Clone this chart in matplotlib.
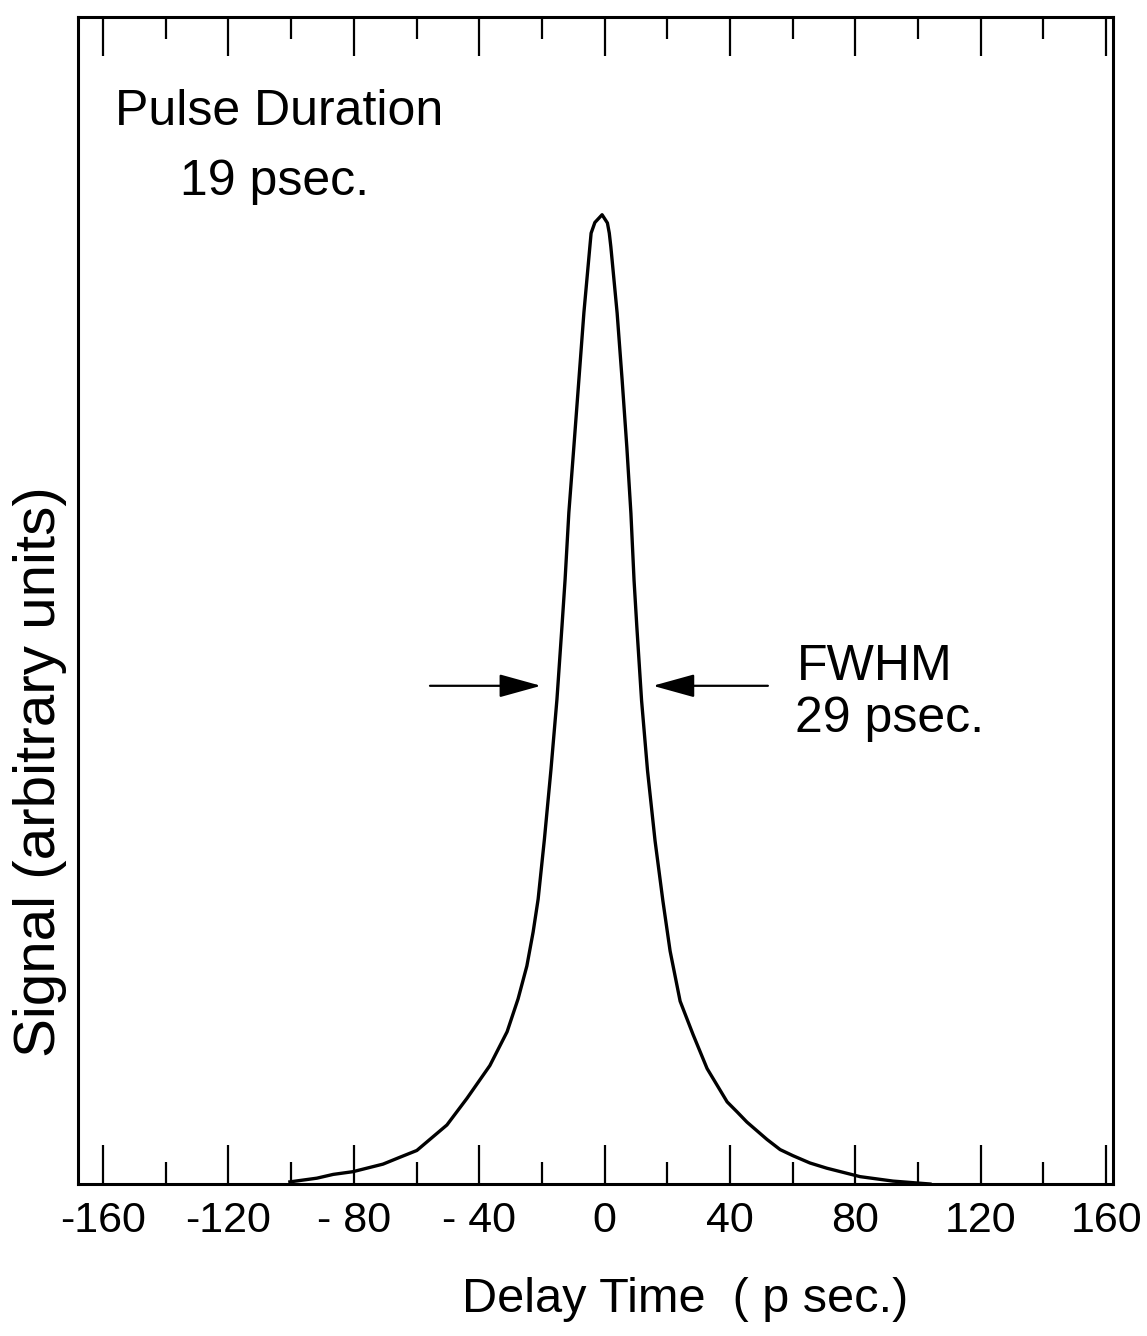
import matplotlib
matplotlib.use('Agg')
import matplotlib.pyplot as plt

plt.rcParams['font.family'] = ['Liberation Sans', 'DejaVu Sans']

# values (signal normalised to the peak)
delay = [-100.4, -91.8, -86.6, -80.3, -70.7, -65.3, -59.9, -50.3, -43.9,
         -36.6, -31.1, -27.6, -24.8, -22.8, -21.2, -19.2, -17.1, -15.2, -13.6,
         -12.6, -11.4, -9.8, -8.2, -6.6, -4.7, -4.3, -3.1, -0.8,
         0.9, 1.5, 2.0, 4.0, 5.6, 7.1, 8.4, 9.4, 10.3, 11.8,
         13.7, 16.1, 18.6, 20.9, 24.1, 28.2, 32.7, 39.1, 42.3,
         45.4, 51.8, 56.0, 60.1, 65.5, 70.9, 81.5, 92.0, 103.8]
signal = [0.0022, 0.0060, 0.0099, 0.0127, 0.0205, 0.0276, 0.0346, 0.0609, 0.0884,
          0.1222, 0.1571, 0.1910, 0.2249, 0.2599, 0.2939, 0.3557, 0.4279, 0.5000, 0.5752,
          0.6237, 0.6928, 0.7608, 0.8298, 0.8990, 0.9670, 0.9810, 0.9920, 1.0,
          0.9915, 0.9810, 0.9668, 0.8986, 0.8293, 0.7601, 0.6919, 0.6227, 0.5742, 0.4988,
          0.4264, 0.3541, 0.2921, 0.2404, 0.1886, 0.1544, 0.1191, 0.0847, 0.0743,
          0.0639, 0.0460, 0.0355, 0.0292, 0.0217, 0.0163, 0.0076, 0.0030, 0.0]

major_ticks = [-160, -120, -80, -40, 0, 40, 80, 120, 160]
major_labels = ['-160', '-120', '- 80', '- 40', '0', '40', '80', '120', '160']
minor_ticks = [-140, -100, -60, -20, 20, 60, 100, 140]

fig = plt.figure(figsize=(11.47, 13.36), dpi=100)
ax = fig.add_axes([78 / 1147, 1 - 1184 / 1336, 1035 / 1147, 1167 / 1336])

ax.plot(delay, signal, color='black', lw=2.4, solid_joinstyle='round')

ax.set_xlim(-168, 162.2)
ax.set_ylim(0, 1.204)

ax.set_xticks(major_ticks)
ax.set_xticklabels(major_labels)
ax.set_xticks(minor_ticks, minor=True)
ax.set_yticks([])
ax.tick_params(axis='x', which='major', direction='in', length=28, width=1.6,
               top=True, bottom=True, labelsize=31, pad=12)
ax.tick_params(axis='x', which='minor', direction='in', length=16, width=1.6,
               top=True, bottom=True)
for s in ax.spines.values():
    s.set_linewidth(2.2)

# FWHM arrows
arrow = dict(arrowstyle='-|>,head_length=1.3,head_width=0.36', color='black',
             lw=1.6, shrinkA=0, shrinkB=0, mutation_scale=20)
ax.annotate('', xy=(-20.3, 0.514), xytext=(-55.7, 0.514), arrowprops=arrow)
ax.annotate('', xy=(15.4, 0.514), xytext=(52.1, 0.514), arrowprops=arrow)

ax.text(-156.2, 1.093, 'Pulse Duration', fontsize=36, va='baseline')
ax.text(-135.4, 1.020, '19 psec.', fontsize=36, va='baseline')
ax.text(61.4, 0.520, 'FWHM', fontsize=36, va='baseline')
ax.text(60.7, 0.466, '29 psec.', fontsize=36, va='baseline')

fig.text(685 / 1147, 1 - 1300 / 1336, 'Delay Time  ( p sec.)', fontsize=35,
         ha='center', va='center')
fig.text(40 / 1147, 1 - 772 / 1336, 'Signal (arbitrary units)', fontsize=42,
         rotation=90, ha='center', va='center')

fig.savefig('out.png', dpi=100)
